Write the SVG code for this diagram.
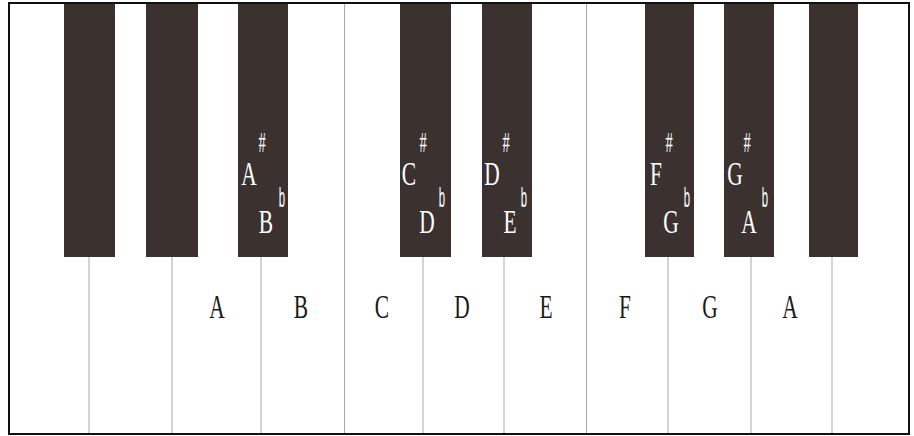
<svg xmlns="http://www.w3.org/2000/svg" width="914" height="436" viewBox="0 0 914 436">
<style>
.bk{fill:#3b322f}
.div{stroke:#a8a8a8;stroke-width:1}
.lt{font-family:"Liberation Serif","Times New Roman",serif;font-size:33px;text-anchor:middle}
.wl{fill:#1a1a1a}
.bl{fill:#ffffff}
.sh{font-family:"Liberation Serif","Times New Roman",serif;font-size:29px;text-anchor:middle;fill:#ffffff}
.fl{font-family:"Liberation Sans",Arial,sans-serif;font-size:27px;text-anchor:middle;fill:#ffffff}
</style>
<rect x="0" y="0" width="914" height="436" fill="#ffffff"/>
<g id="white-keys">
<g id="w1"><rect x="9" y="3" width="80" height="431" fill="#fff"/></g>
<g id="w2"><rect x="89" y="3" width="83" height="431" fill="#fff"/></g>
<g id="w3"><text class="lt wl" transform="translate(217,318) scale(0.65,1)">A</text></g>
<g id="w4"><text class="lt wl" transform="translate(301,318) scale(0.65,1)">B</text></g>
<g id="w5"><text class="lt wl" transform="translate(382,318) scale(0.65,1)">C</text></g>
<g id="w6"><text class="lt wl" transform="translate(462,318) scale(0.65,1)">D</text></g>
<g id="w7"><text class="lt wl" transform="translate(546,318) scale(0.65,1)">E</text></g>
<g id="w8"><text class="lt wl" transform="translate(625,318) scale(0.65,1)">F</text></g>
<g id="w9"><text class="lt wl" transform="translate(710,318) scale(0.65,1)">G</text></g>
<g id="w10"><text class="lt wl" transform="translate(790,318) scale(0.65,1)">A</text></g>
</g>
<g id="dividers" class="div">
<line x1="89" y1="3" x2="89" y2="434"/>
<line x1="172" y1="3" x2="172" y2="434"/>
<line x1="261" y1="3" x2="261" y2="434"/>
<line x1="344.5" y1="3" x2="344.5" y2="434"/>
<line x1="423" y1="3" x2="423" y2="434"/>
<line x1="504" y1="3" x2="504" y2="434"/>
<line x1="586.5" y1="3" x2="586.5" y2="434"/>
<line x1="668" y1="3" x2="668" y2="434"/>
<line x1="751" y1="3" x2="751" y2="434"/>
<line x1="832" y1="3" x2="832" y2="434"/>
</g>
<g id="black-keys">
<g id="b1"><rect class="bk" x="64" y="3" width="51" height="254"/></g>
<g id="b2"><rect class="bk" x="146" y="3" width="52" height="254"/></g>
<g id="b3"><rect class="bk" x="238" y="3" width="50" height="254"/>
<text class="sh" transform="translate(262,152) scale(0.5,1)">#</text>
<text class="lt bl" transform="translate(249,185) scale(0.65,1)">A</text>
<text class="fl" transform="translate(282,207) scale(0.42,1)">b</text>
<text class="lt bl" transform="translate(266,233) scale(0.65,1)">B</text></g>
<g id="b4"><rect class="bk" x="400" y="3" width="51" height="254"/>
<text class="sh" transform="translate(423,152) scale(0.5,1)">#</text>
<text class="lt bl" transform="translate(409,185) scale(0.65,1)">C</text>
<text class="fl" transform="translate(442,207) scale(0.42,1)">b</text>
<text class="lt bl" transform="translate(427,233) scale(0.65,1)">D</text></g>
<g id="b5"><rect class="bk" x="482" y="3" width="50" height="254"/>
<text class="sh" transform="translate(506,152) scale(0.5,1)">#</text>
<text class="lt bl" transform="translate(492,185) scale(0.65,1)">D</text>
<text class="fl" transform="translate(524,207) scale(0.42,1)">b</text>
<text class="lt bl" transform="translate(510,233) scale(0.65,1)">E</text></g>
<g id="b6"><rect class="bk" x="645" y="3" width="49" height="254"/>
<text class="sh" transform="translate(669,152) scale(0.5,1)">#</text>
<text class="lt bl" transform="translate(656,185) scale(0.65,1)">F</text>
<text class="fl" transform="translate(687,207) scale(0.42,1)">b</text>
<text class="lt bl" transform="translate(671,233) scale(0.65,1)">G</text></g>
<g id="b7"><rect class="bk" x="724" y="3" width="50" height="254"/>
<text class="sh" transform="translate(747,152) scale(0.5,1)">#</text>
<text class="lt bl" transform="translate(735,185) scale(0.65,1)">G</text>
<text class="fl" transform="translate(765,207) scale(0.42,1)">b</text>
<text class="lt bl" transform="translate(749,233) scale(0.65,1)">A</text></g>
<g id="b8"><rect class="bk" x="809" y="3" width="49" height="254"/></g>
</g>
<rect id="frame" x="9" y="3" width="900" height="431" fill="none" stroke="#111" stroke-width="2"/>
</svg>
